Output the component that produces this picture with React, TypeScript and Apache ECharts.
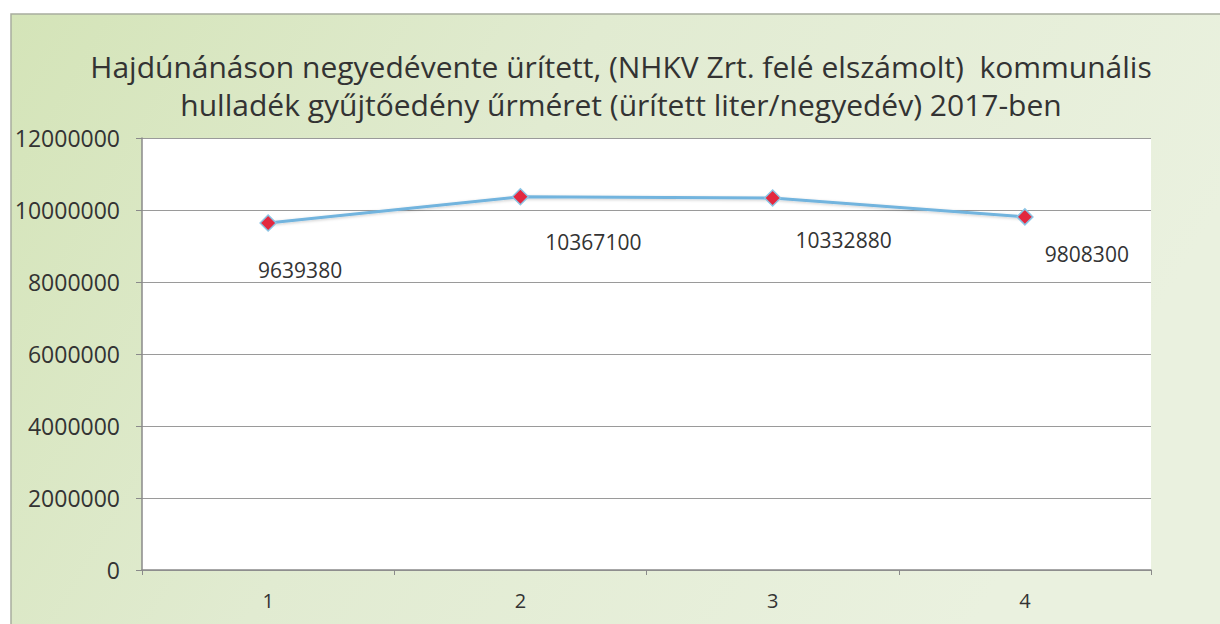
import React, { useEffect, useRef } from "react";
import * as echarts from "echarts";

const categories = ["1", "2", "3", "4"];
const values = [9639380, 10367100, 10332880, 9808300];
const yMin = 0;
const yMax = 12000000;
const yInterval = 2000000;
const titleLines = [
  "Hajdúnánáson negyedévente ürített, (NHKV Zrt. felé elszámolt)  kommunális",
  "hulladék gyűjtőedény űrméret (ürített liter/negyedév) 2017-ben",
];

const labelOffsets = [
  [32, 47],
  [73, 45],
  [71, 42],
  [62, 37],
];

export default function App() {
  const ref = useRef<HTMLDivElement>(null);
  useEffect(() => {
    if (!ref.current) return;
    const chart = echarts.init(ref.current, null, { renderer: "svg" });
    const font = "'Open Sans', 'Noto Sans', sans-serif";
    chart.setOption({
      animation: false,
      backgroundColor: "#ffffff",
      graphic: [
        {
          type: "rect",
          z: -10,
          shape: { x: 11, y: 14, width: 1215, height: 615 },
          style: {
            fill: {
              type: "linear",
              x: 0,
              y: 0,
              x2: 1,
              y2: 0.3,
              colorStops: [
                { offset: 0, color: "#d4e4b8" },
                { offset: 0.45, color: "#e1ebd1" },
                { offset: 1, color: "#eaf1df" },
              ],
            },
            stroke: "#a8ad9e",
            lineWidth: 1.5,
          },
        },
        ...titleLines.map((t, i) => ({
          type: "text",
          x: 621,
          y: 66 + i * 38,
          z: 10,
          style: {
            text: t,
            font: `30px ${font}`,
            fill: "#333333",
            textAlign: "center",
            textVerticalAlign: "middle",
          },
        })),
      ],
      grid: {
        left: 142,
        right: 69,
        top: 138,
        bottom: 54,
        show: true,
        backgroundColor: "#ffffff",
        borderWidth: 0,
      },
      xAxis: {
        type: "category",
        data: categories,
        boundaryGap: true,
        axisLine: { show: true, lineStyle: { color: "#8a8a8a", width: 1.5 } },
        axisTick: { show: true, length: 5, lineStyle: { color: "#8a8a8a" } },
        axisLabel: { color: "#333", fontSize: 20, fontFamily: font, margin: 20 },
        splitLine: { show: false },
      },
      yAxis: {
        type: "value",
        min: yMin,
        max: yMax,
        interval: yInterval,
        axisLine: { show: true, lineStyle: { color: "#8a8a8a", width: 1.5 } },
        axisTick: { show: true, length: 6, lineStyle: { color: "#8a8a8a" } },
        axisLabel: {
          color: "#333",
          fontSize: 23,
          fontFamily: font,
          margin: 22,
          formatter: (v: number) => String(v),
        },
        splitLine: { show: true, lineStyle: { color: "#9a9a9a", width: 1 } },
      },
      series: [
        {
          type: "line",
          data: values.map((v, i) => ({
            value: v,
            label: { offset: labelOffsets[i] },
          })),
          lineStyle: {
            color: "#72b4de",
            width: 3,
            shadowColor: "rgba(0,0,0,0.2)",
            shadowBlur: 3,
            shadowOffsetY: 1,
          },
          symbol: "diamond",
          symbolSize: 16,
          itemStyle: { color: "#e3283f", borderColor: "#8cc4e4", borderWidth: 1.5 },
          label: {
            show: true,
            position: "inside",
            color: "#333",
            fontSize: 21,
            fontFamily: font,
          },
        },
      ],
    });
    return () => chart.dispose();
  }, []);
  return (
    <div
      ref={ref}
      style={{ position: "absolute", left: 0, top: 0, width: 1220, height: 624 }}
    />
  );
}
